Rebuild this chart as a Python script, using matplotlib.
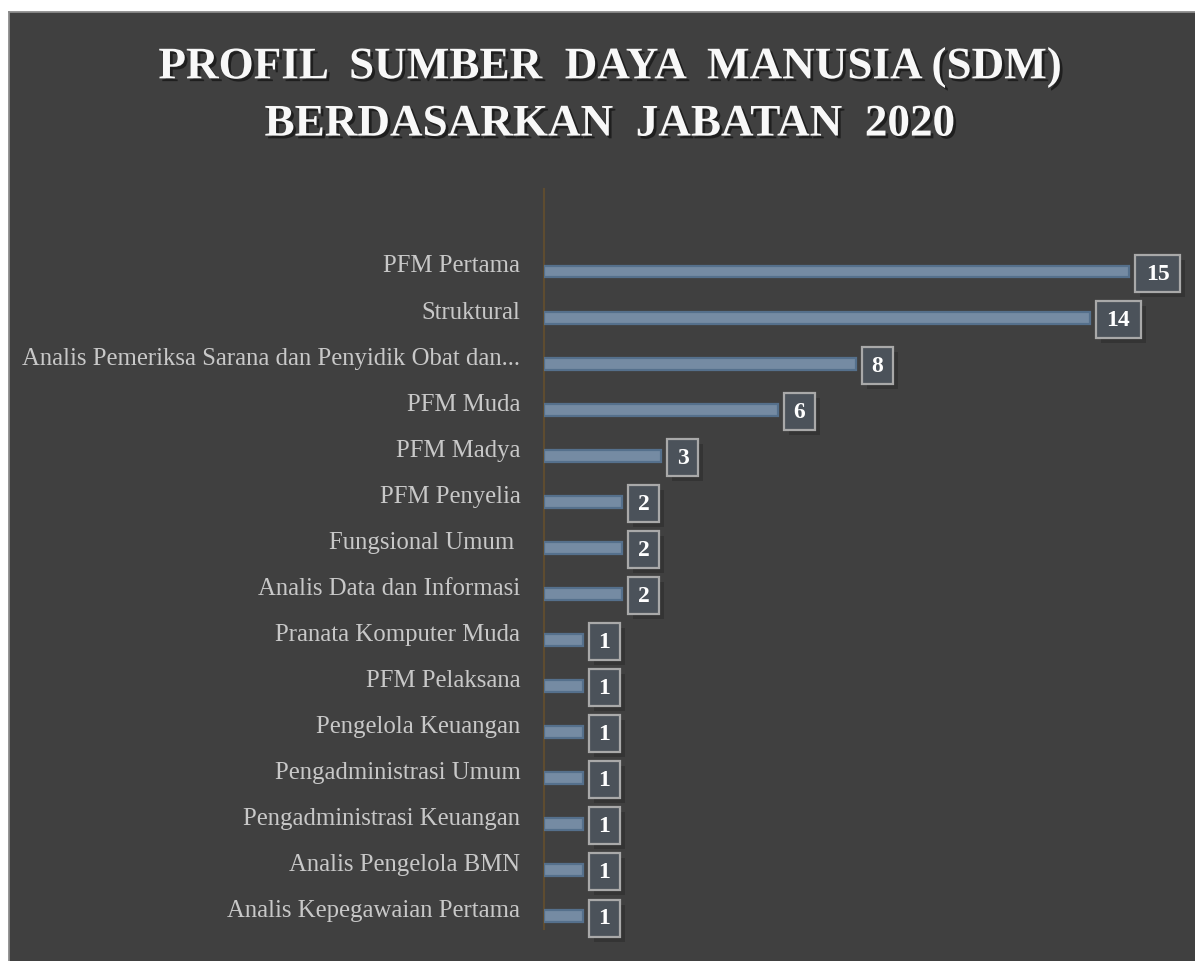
import matplotlib
matplotlib.use("Agg")
import matplotlib.pyplot as plt
from matplotlib.patches import Rectangle
from matplotlib.lines import Line2D
import matplotlib.patheffects as pe

categories = [
    "PFM Pertama",
    "Struktural",
    "Analis Pemeriksa Sarana dan Penyidik Obat dan...",
    "PFM Muda",
    "PFM Madya",
    "PFM Penyelia",
    "Fungsional Umum ",
    "Analis Data dan Informasi",
    "Pranata Komputer Muda",
    "PFM Pelaksana",
    "Pengelola Keuangan",
    "Pengadministrasi Umum",
    "Pengadministrasi Keuangan",
    "Analis Pengelola BMN",
    "Analis Kepegawaian Pertama",
]
values = [15, 14, 8, 6, 3, 2, 2, 2, 1, 1, 1, 1, 1, 1, 1]
title = "PROFIL  SUMBER  DAYA  MANUSIA (SDM)\nBERDASARKAN  JABATAN  2020"

W, H, DPI = 1195, 962, 100
fig = plt.figure(figsize=(W / DPI, H / DPI), dpi=DPI)
fig.patch.set_facecolor("white")

# dark panel with border only on top and left
fig.add_artist(Rectangle((8.5 / W, 0), 1, (H - 12.5) / H, transform=fig.transFigure,
                         facecolor="#404040", edgecolor="none", zorder=0))
fig.add_artist(Line2D([8.5 / W, 1], [1 - 12.5 / H] * 2, transform=fig.transFigure,
                      color="#8c8c8c", lw=1.3, zorder=1))
fig.add_artist(Line2D([8.5 / W] * 2, [0, 1 - 12.5 / H], transform=fig.transFigure,
                      color="#8c8c8c", lw=1.3, zorder=1))

ax_left, ax_right = 544, 1168
ax_top, ax_bot = 190, 930
ax = fig.add_axes([ax_left / W, 1 - ax_bot / H, (ax_right - ax_left) / W, (ax_bot - ax_top) / H])
ax.set_facecolor("none")

xmax = 16
ax.set_xlim(0, xmax)
row0, rowN = 272.5, 917
pitch = (rowN - row0) / (len(categories) - 1)
ax.set_ylim((ax_bot - row0) / pitch, (ax_top - row0) / pitch)

ypos = list(range(len(categories)))
ax.barh(ypos, values, height=0.26, color="#758ba3", edgecolor="#55708c", linewidth=1.6, zorder=3)

ax.set_yticks(ypos)
ax.set_yticklabels(categories, fontfamily="Liberation Serif", fontsize=17.8, color="#c8c8c8",
                   va="baseline")
ax.tick_params(axis="y", length=0, pad=17)
ax.set_xticks([])
for s in ["top", "right", "bottom"]:
    ax.spines[s].set_visible(False)
ax.spines["left"].set_color("#5e4c30")
ax.spines["left"].set_linewidth(1.5)

# value boxes
px_x = (ax_right - ax_left) / xmax
for i, v in enumerate(values):
    wpx = 31 if v < 10 else 45
    hpx = 37
    x0 = v + 6 / px_x
    wd = wpx / px_x
    yc = i + 2 / pitch
    hd = hpx / pitch
    ax.add_patch(Rectangle((x0 + 5 / px_x, yc - hd / 2 + 5 / pitch), wd, hd,
                           facecolor="black", alpha=0.18, edgecolor="none", zorder=4, clip_on=False))
    ax.add_patch(Rectangle((x0, yc - hd / 2), wd, hd, facecolor="#4b525a",
                           edgecolor="#a9a9a9", lw=1.6, zorder=5, clip_on=False))
    ax.text(x0 + wd / 2, yc, str(v), ha="center", va="center", fontfamily="Liberation Serif",
            fontweight="bold", fontsize=17, color="white", zorder=6)

fig.text(610 / W, 1 - 97 / H, title, ha="center", va="center", fontfamily="Liberation Serif",
         fontweight="bold", fontsize=32.5, color="#f8f8f8", linespacing=1.54,
         path_effects=[pe.withSimplePatchShadow(offset=(2, -2), shadow_rgbFace="black", alpha=0.5)])

fig.savefig("out.png", dpi=DPI, facecolor=fig.get_facecolor())
